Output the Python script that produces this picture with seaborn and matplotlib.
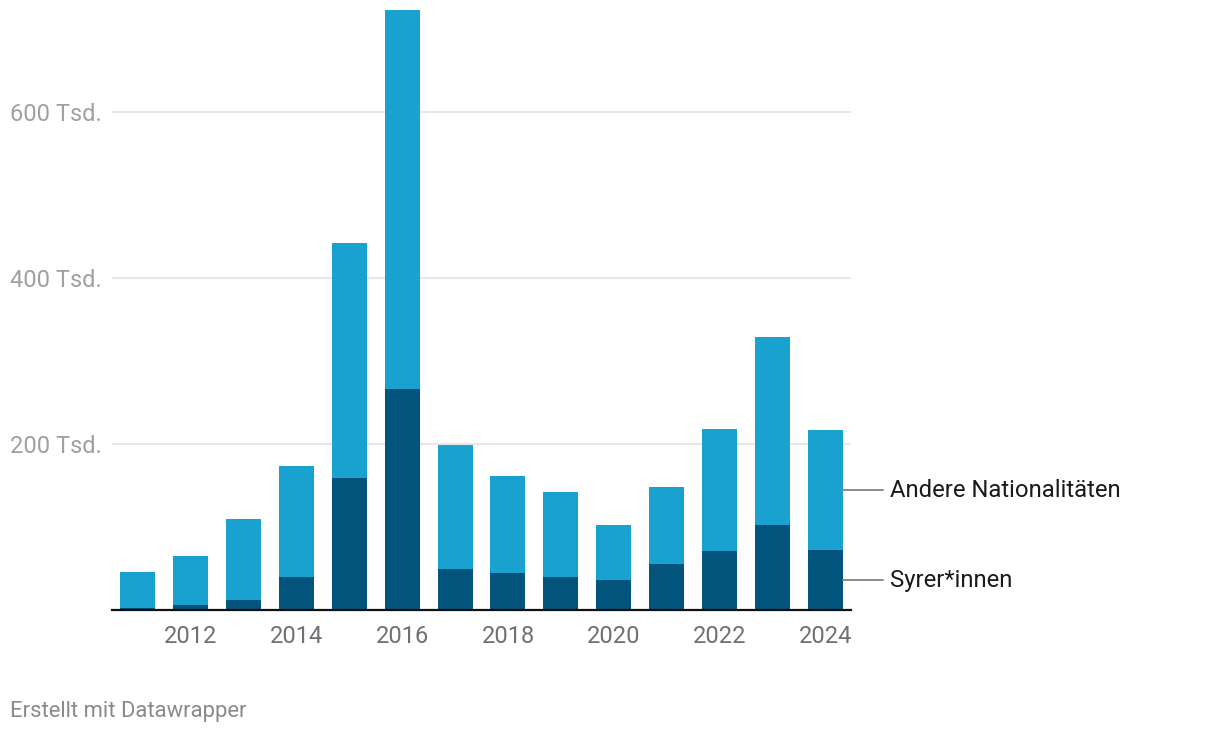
import pandas as pd
import matplotlib
matplotlib.use("Agg")
import matplotlib.pyplot as plt
import seaborn as sns

# Asylanträge in Deutschland (Tsd.)
years = [2011, 2012, 2013, 2014, 2015, 2016, 2017, 2018, 2019, 2020, 2021, 2022, 2023, 2024]
total = [45.7, 64.5, 109.6, 173.1, 441.9, 722.4, 198.3, 161.9, 142.5, 102.6, 148.2, 217.8, 329.1, 217.0]
syrer = [2.6, 6.2, 11.9, 39.3, 158.7, 266.3, 49.0, 44.2, 39.3, 36.4, 54.9, 71.0, 102.9, 72.0]
ytick_vals = [200, 400, 600]
ytick_labels = ["200 Tsd.", "400 Tsd.", "600 Tsd."]
xtick_years = [2012, 2014, 2016, 2018, 2020, 2022, 2024]

df = pd.DataFrame({"year": [str(y) for y in years], "total": total, "syrer": syrer})

LIGHT = "#19a2cf"
DARK = "#03547c"

sns.set_style("white")
plt.rcParams["font.family"] = ["Roboto", "DejaVu Sans"]

fig = plt.figure(figsize=(12.2, 7.32), dpi=100)
ax = fig.add_axes([112 / 1220, 1 - 610 / 732, (851 - 112) / 1220, 610 / 732])

sns.barplot(data=df, x="year", y="total", color=LIGHT, saturation=1,
            width=0.66, linewidth=0, ax=ax, zorder=2)
sns.barplot(data=df, x="year", y="syrer", color=DARK, saturation=1,
            width=0.66, linewidth=0, ax=ax, zorder=3)

ax.set_xlim(-0.482, len(years) - 1 + 0.482)
ax.set_ylim(0, 610 / 0.83)

# y axis: labels left aligned at figure edge, light grid
ax.set_yticks(ytick_vals)
ax.set_yticklabels(ytick_labels, fontsize=17, color="#a0a0a0", ha="left")
ax.tick_params(axis="y", length=0, pad=73.4)
ax.yaxis.grid(True, color="#e2e2e2", linewidth=1.2, zorder=0)
ax.set_axisbelow(True)

# x axis
ax.set_xticks([years.index(y) for y in xtick_years])
ax.set_xticklabels([str(y) for y in xtick_years], fontsize=17, color="#707070")
ax.tick_params(axis="x", length=0, pad=11)
ax.set_xlabel("")
ax.set_ylabel("")

for s in ["top", "right", "left"]:
    ax.spines[s].set_visible(False)
ax.spines["bottom"].set_color("#111111")
ax.spines["bottom"].set_linewidth(1.6)
ax.spines["bottom"].set_zorder(5)

# direct labels at the last bar
last = len(years) - 1
mid_other = syrer[-1] + (total[-1] - syrer[-1]) / 2
mid_syr = syrer[-1] / 2
for yv, label in [(mid_other, "Andere Nationalitäten"), (mid_syr, "Syrer*innen")]:
    ax.plot([last + 0.33, last + 1.087], [yv, yv], color="#8a8a8a", lw=1.4,
            clip_on=False, zorder=4)
    ax.text(last + 1.22, yv, label, fontsize=17.2, color="#1a1a1a",
            va="center", ha="left", clip_on=False)

fig.text(10 / 1220, 1 - 711 / 732, "Erstellt mit Datawrapper", fontsize=15.8,
         color="#8a8a8a", ha="left", va="center")

fig.savefig("out.png", dpi=100)
